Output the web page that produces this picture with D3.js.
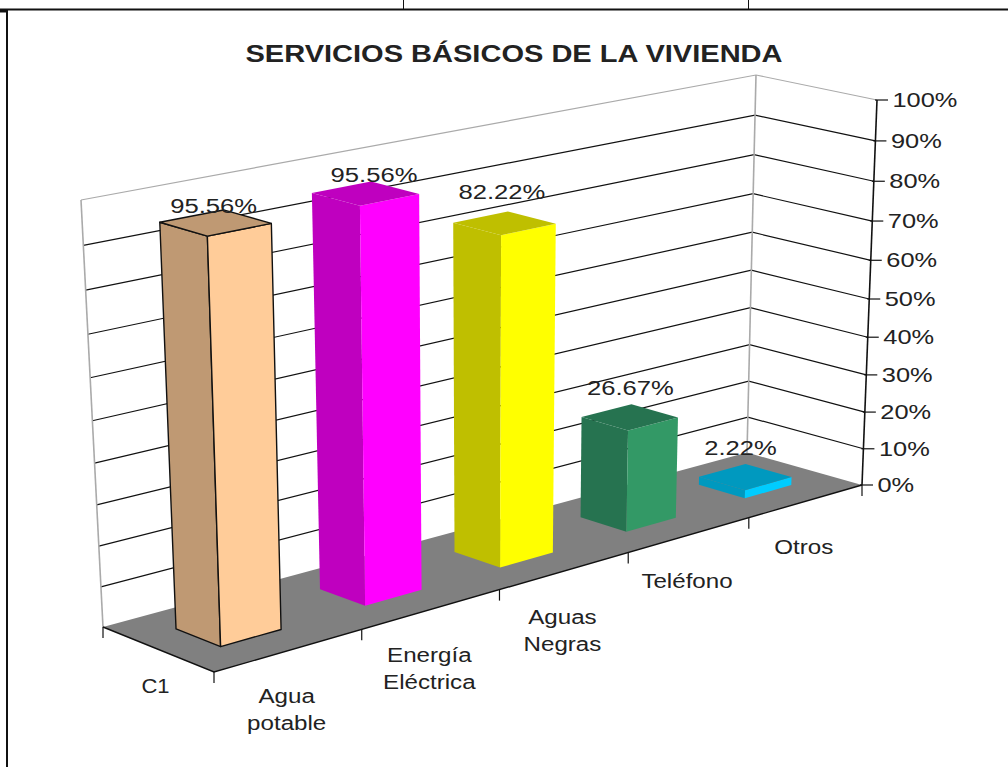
<!DOCTYPE html>
<html><head><meta charset="utf-8">
<script src="https://cdn.jsdelivr.net/npm/d3@7"></script>
<style>
html,body{margin:0;padding:0;background:#fff;overflow:hidden}
text{font-family:"Liberation Sans",Arial,sans-serif;fill:#222}
</style></head><body>
<svg id="c" width="1008" height="767"></svg>
<script>
const title = "SERVICIOS BÁSICOS DE LA VIVIENDA";
const categories = ["Agua potable","Energía Eléctrica","Aguas Negras","Teléfono","Otros"];
const categoryLines = [["Agua","potable"],["Energía","Eléctrica"],["Aguas","Negras"],["Teléfono"],["Otros"]];
const seriesName = "C1";
const values = [95.56,95.56,82.22,26.67,2.22];
const valueLabels = ["95.56%","95.56%","82.22%","26.67%","2.22%"];
const sideColors = ["#FFCC99","#FF00FF","#FFFF00","#339966","#00CCFF"];
const darkColors = ["#BF9973","#BF00BF","#BFBF00","#267350","#0099BF"];
const tickValues = [0,10,20,30,40,50,60,70,80,90,100];
const labelNudge = [[-10,3],[3,1],[-6,-12],[-1,-9],[-5,-9]];

const floorQuad = [[214,672],[862,485],[747,452.6],[103,627]];
const topQuad   = [[200,235],[877,100],[756,75],[81,200]];
const depthRatio = 1.07;

function homography(q){
  const [[x0,y0],[x1,y1],[x2,y2],[x3,y3]] = q;
  const dx1=x1-x2,dx2=x3-x2,sx=x0-x1+x2-x3,dy1=y1-y2,dy2=y3-y2,sy=y0-y1+y2-y3;
  const d=dx1*dy2-dx2*dy1;
  const g=(sx*dy2-dx2*sy)/d,h=(dx1*sy-sx*dy1)/d;
  const a=x1-x0+g*x1,b=x3-x0+h*x3,c=x0,e=y1-y0+g*y1,f=y3-y0+h*y3,i=y0;
  return (u,v)=>{const w=g*u+h*v+1;return [(a*u+b*v+c)/w,(e*u+f*v+i)/w];};
}
const floorH=homography(floorQuad), topH=homography(topQuad);
const yScale=d3.scaleLinear().domain([0,100]).range([0,1]);
const xBand=d3.scaleBand().domain(categories).range([-.005,.995]).paddingInner(.59).paddingOuter(.295);
const xEdge=d3.scaleLinear().domain([0,categories.length]).range([0,1]);
const zBand=d3.scaleBand().domain([seriesName]).range([0,1]).paddingInner(0).paddingOuter(.75);
function P(u,z,val){
  const a=floorH(u,z),b=topH(u,z),v=yScale(val),t=v/(v+(1-v)*depthRatio);
  return [a[0]+(b[0]-a[0])*t,a[1]+(b[1]-a[1])*t];
}
const wide=(sel,x,y,k)=>sel.attr("transform",`translate(${x},${y}) scale(${k},1)`);
const line=d3.line();
const svg=d3.select("#c");

// page frame behind the chart
const frame=svg.append("g").attr("stroke","#111").attr("fill","none");
frame.append("line").attr("x1",0).attr("x2",1008).attr("y1",9.5).attr("y2",9.5).attr("stroke-width",2);
frame.append("line").attr("x1",403.5).attr("x2",403.5).attr("y1",0).attr("y2",9);
frame.append("line").attr("x1",748.5).attr("x2",748.5).attr("y1",0).attr("y2",9);
frame.append("line").attr("x1",7).attr("x2",7).attr("y1",10).attr("y2",767).attr("stroke-width",2);
frame.append("line").attr("x1",0).attr("x2",6).attr("y1",11).attr("y2",11).attr("stroke-width",3);

wide(svg.append("text").attr("text-anchor","middle")
  .attr("font-size",24).attr("font-weight","bold").attr("fill","#111").text(title),514,62,1.21);

// gridlines on the two walls
svg.append("g").selectAll("path").data(tickValues.filter(d=>d>0)).join("path")
  .attr("fill","none").attr("stroke",d=>d===100?"#aaa":"#111").attr("stroke-width",1.2)
  .attr("d",d=>line([P(0,1,d),P(1,1,d),P(1,0,d)]));
// wall verticals
svg.append("g").selectAll("path").data([0,1]).join("path")
  .attr("fill","none").attr("stroke","#aaa").attr("stroke-width",1.6)
  .attr("d",d=>line([P(d,1,0),P(d,1,100)]));

// floor
svg.append("path").attr("fill","#808080").attr("d",line(floorQuad)+"Z");

// value axis
const ax=svg.append("g");
ax.append("path").attr("fill","none").attr("stroke","#111").attr("stroke-width",1.6).attr("d",line([P(1,0,0),P(1,0,100)]));
ax.selectAll("line").data(tickValues).join("line")
  .attr("stroke","#111").attr("stroke-width",1.2)
  .attr("x1",d=>P(1,0,d)[0]-2).attr("x2",d=>P(1,0,d)[0]+11)
  .attr("y1",d=>P(1,0,d)[1]).attr("y2",d=>P(1,0,d)[1]);
ax.selectAll("text").data(tickValues).join("text")
  .attr("font-size",21).text(d=>d+"%")
  .attr("transform",d=>`translate(${P(1,0,d)[0]+15.5},${P(1,0,d)[1]+7}) scale(1.21,1)`);

// floor edges and ticks
svg.append("path").attr("fill","none").attr("stroke","#111").attr("stroke-width",1.4)
  .attr("d",line([P(0,1,0),P(0,0,0),P(1,0,0)]));
const edgeTicks=[...d3.range(categories.length+1).map(i=>[xEdge(i),0]),[0,1]];
svg.append("g").selectAll("line").data(edgeTicks).join("line")
  .attr("stroke","#111").attr("stroke-width",1.2)
  .attr("x1",d=>P(d[0],d[1],0)[0]).attr("x2",d=>P(d[0],d[1],0)[0])
  .attr("y1",d=>P(d[0],d[1],0)[1]).attr("y2",d=>P(d[0],d[1],0)[1]+11);

// bars
const z0=zBand(seriesName), z1=z0+zBand.bandwidth();
categories.forEach((c,i)=>{
  const u0=xBand(c),u1=u0+xBand.bandwidth(),v=values[i];
  const g=svg.append("g");
  const st=i===0?{stroke:"#111",w:1.4}:{stroke:"none",w:0};
  const face=(pts,col)=>g.append("path").attr("d",line(pts)+"Z").attr("fill",col)
     .attr("stroke",st.stroke).attr("stroke-width",st.w).attr("stroke-linejoin","round");
  face([P(u0,z1,0),P(u0,z0,0),P(u0,z0,v),P(u0,z1,v)],darkColors[i]);
  face([P(u0,z0,0),P(u1,z0,0),P(u1,z0,v),P(u0,z0,v)],sideColors[i]);
  face([P(u0,z0,v),P(u1,z0,v),P(u1,z1,v),P(u0,z1,v)],darkColors[i]);
});

// data labels
svg.append("g").selectAll("text").data(categories).join("text")
  .attr("text-anchor","middle").attr("font-size",21)
  .attr("transform",(c,i)=>{
    const p=P(xBand(c)+xBand.bandwidth(),z1,values[i]);
    return `translate(${p[0]+labelNudge[i][0]},${p[1]+labelNudge[i][1]}) scale(1.22,1)`;
  })
  .text((c,i)=>valueLabels[i]);

// category labels
categories.forEach((c,i)=>{
  const m=P(xEdge(i+.5),0,0);
  categoryLines[i].forEach((s,k)=>wide(svg.append("text").attr("text-anchor","middle").attr("font-size",21).text(s),m[0]-2.5,m[1]+53+k*27,1.15));
});
const s=P(0,.5,0);
wide(svg.append("text").attr("text-anchor","middle").attr("font-size",20).text(seriesName),s[0]-2,s[1]+44,1.1);
</script>
</body></html>
